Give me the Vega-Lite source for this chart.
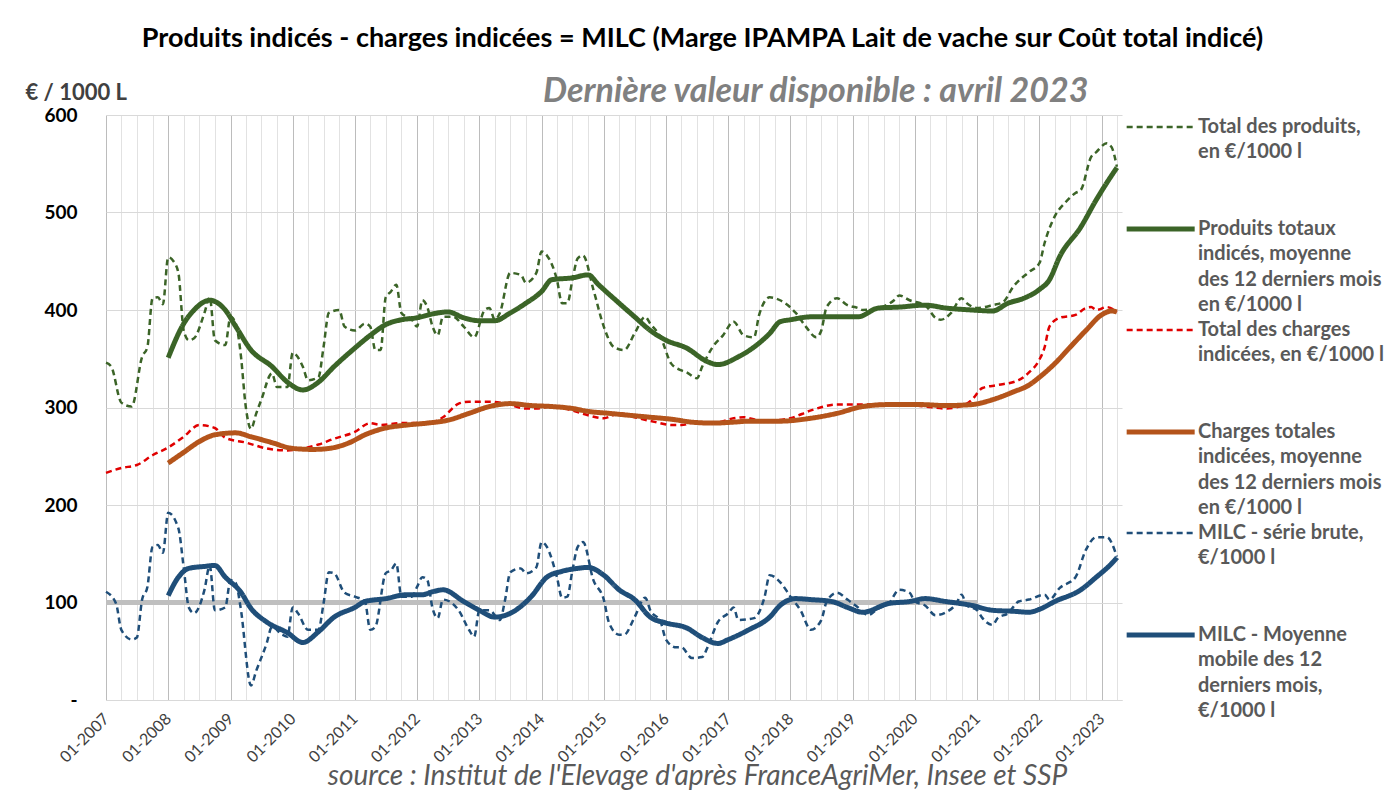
{
  "$schema": "https://vega.github.io/schema/vega-lite/v6.json",
  "width": 1016,
  "height": 585,
  "autosize": {"type": "none"},
  "padding": {"left": 106, "top": 115, "right": 272, "bottom": 93},
  "background": "white",
  "config": {
    "font": "Lato",
    "view": {"stroke": null},
    "style": {"guide-label": {"lineHeight": 25.3}}
  },
  "data": {
    "format": {"parse": {"d": "date:'%Y-%m'"}},
    "values": [
      {"s":"a","d":"2007-01","v":346},{"s":"a","d":"2007-02","v":342},{"s":"a","d":"2007-04","v":305},{"s":"a","d":"2007-06","v":301},{"s":"a","d":"2007-08","v":352},{"s":"a","d":"2007-09","v":362},{"s":"a","d":"2007-10","v":412},{"s":"a","d":"2007-11","v":413},{"s":"a","d":"2007-12","v":406},
      {"s":"a","d":"2008-01","v":454},{"s":"a","d":"2008-02","v":450},{"s":"a","d":"2008-03","v":438},{"s":"a","d":"2008-04","v":379},{"s":"a","d":"2008-05","v":369},{"s":"a","d":"2008-06","v":371},{"s":"a","d":"2008-08","v":397},{"s":"a","d":"2008-09","v":413},{"s":"a","d":"2008-10","v":369},{"s":"a","d":"2008-12","v":364},
      {"s":"a","d":"2009-01","v":393},{"s":"a","d":"2009-02","v":386},{"s":"a","d":"2009-03","v":356},{"s":"a","d":"2009-04","v":300},{"s":"a","d":"2009-05","v":278},{"s":"a","d":"2009-06","v":294},{"s":"a","d":"2009-07","v":308},{"s":"a","d":"2009-09","v":335},{"s":"a","d":"2009-10","v":321},{"s":"a","d":"2009-12","v":321},
      {"s":"a","d":"2010-01","v":356},{"s":"a","d":"2010-03","v":342},{"s":"a","d":"2010-04","v":328},{"s":"a","d":"2010-06","v":331},{"s":"a","d":"2010-07","v":362},{"s":"a","d":"2010-08","v":397},{"s":"a","d":"2010-10","v":400},{"s":"a","d":"2010-11","v":383},
      {"s":"a","d":"2011-01","v":379},{"s":"a","d":"2011-03","v":386},{"s":"a","d":"2011-04","v":383},{"s":"a","d":"2011-05","v":359},{"s":"a","d":"2011-06","v":359},{"s":"a","d":"2011-07","v":413},{"s":"a","d":"2011-08","v":419},{"s":"a","d":"2011-09","v":426},{"s":"a","d":"2011-10","v":397},{"s":"a","d":"2011-12","v":390},
      {"s":"a","d":"2012-01","v":383},{"s":"a","d":"2012-02","v":410},{"s":"a","d":"2012-03","v":403},{"s":"a","d":"2012-04","v":383},{"s":"a","d":"2012-05","v":374},{"s":"a","d":"2012-06","v":393},{"s":"a","d":"2012-08","v":393},{"s":"a","d":"2012-10","v":383},{"s":"a","d":"2012-12","v":372},
      {"s":"a","d":"2013-02","v":400},{"s":"a","d":"2013-03","v":402},{"s":"a","d":"2013-04","v":390},{"s":"a","d":"2013-05","v":397},{"s":"a","d":"2013-07","v":438},{"s":"a","d":"2013-09","v":436},{"s":"a","d":"2013-10","v":428},{"s":"a","d":"2013-12","v":438},
      {"s":"a","d":"2014-01","v":460},{"s":"a","d":"2014-02","v":456},{"s":"a","d":"2014-04","v":431},{"s":"a","d":"2014-05","v":407},{"s":"a","d":"2014-06","v":407},{"s":"a","d":"2014-07","v":431},{"s":"a","d":"2014-08","v":453},{"s":"a","d":"2014-09","v":456},{"s":"a","d":"2014-11","v":421},
      {"s":"a","d":"2015-01","v":383},{"s":"a","d":"2015-03","v":362},{"s":"a","d":"2015-05","v":359},{"s":"a","d":"2015-07","v":376},{"s":"a","d":"2015-09","v":393},{"s":"a","d":"2015-10","v":386},{"s":"a","d":"2015-12","v":372},
      {"s":"a","d":"2016-02","v":345},{"s":"a","d":"2016-04","v":338},{"s":"a","d":"2016-05","v":336},{"s":"a","d":"2016-07","v":330},{"s":"a","d":"2016-08","v":342},{"s":"a","d":"2016-10","v":362},{"s":"a","d":"2016-12","v":374},
      {"s":"a","d":"2017-02","v":388},{"s":"a","d":"2017-04","v":374},{"s":"a","d":"2017-06","v":372},{"s":"a","d":"2017-07","v":395},{"s":"a","d":"2017-09","v":413},{"s":"a","d":"2017-11","v":410},
      {"s":"a","d":"2018-02","v":397},{"s":"a","d":"2018-04","v":383},{"s":"a","d":"2018-06","v":372},{"s":"a","d":"2018-07","v":379},{"s":"a","d":"2018-08","v":403},{"s":"a","d":"2018-10","v":412},{"s":"a","d":"2018-12","v":405},
      {"s":"a","d":"2019-02","v":402},{"s":"a","d":"2019-03","v":400},{"s":"a","d":"2019-06","v":402},{"s":"a","d":"2019-09","v":410},{"s":"a","d":"2019-10","v":415},{"s":"a","d":"2019-12","v":410},
      {"s":"a","d":"2020-03","v":405},{"s":"a","d":"2020-05","v":392},{"s":"a","d":"2020-06","v":390},{"s":"a","d":"2020-08","v":397},{"s":"a","d":"2020-10","v":412},{"s":"a","d":"2020-11","v":407},
      {"s":"a","d":"2021-01","v":402},{"s":"a","d":"2021-04","v":405},{"s":"a","d":"2021-06","v":408},{"s":"a","d":"2021-08","v":424},{"s":"a","d":"2021-11","v":439},
      {"s":"a","d":"2022-01","v":448},{"s":"a","d":"2022-02","v":469},{"s":"a","d":"2022-04","v":496},{"s":"a","d":"2022-06","v":510},{"s":"a","d":"2022-08","v":520},{"s":"a","d":"2022-09","v":523},{"s":"a","d":"2022-11","v":557},{"s":"a","d":"2022-12","v":562},
      {"s":"a","d":"2023-02","v":571},{"s":"a","d":"2023-03","v":567},{"s":"a","d":"2023-04","v":547},

      {"s":"b","d":"2008-01","v":351},{"s":"b","d":"2008-04","v":386},{"s":"b","d":"2008-06","v":400},{"s":"b","d":"2008-09","v":410},{"s":"b","d":"2008-12","v":400},{"s":"b","d":"2009-02","v":383},{"s":"b","d":"2009-05","v":359},{"s":"b","d":"2009-09","v":342},{"s":"b","d":"2009-12","v":326},
      {"s":"b","d":"2010-03","v":318},{"s":"b","d":"2010-06","v":326},{"s":"b","d":"2010-09","v":342},{"s":"b","d":"2011-01","v":361},{"s":"b","d":"2011-04","v":374},{"s":"b","d":"2011-07","v":385},{"s":"b","d":"2011-10","v":390},
      {"s":"b","d":"2012-01","v":392},{"s":"b","d":"2012-04","v":396},{"s":"b","d":"2012-07","v":398},{"s":"b","d":"2012-10","v":392},{"s":"b","d":"2013-01","v":389},{"s":"b","d":"2013-04","v":389},{"s":"b","d":"2013-07","v":397},{"s":"b","d":"2013-10","v":407},
      {"s":"b","d":"2014-01","v":419},{"s":"b","d":"2014-03","v":431},{"s":"b","d":"2014-07","v":433},{"s":"b","d":"2014-10","v":436},{"s":"b","d":"2014-12","v":426},{"s":"b","d":"2015-04","v":407},{"s":"b","d":"2015-07","v":393},{"s":"b","d":"2015-10","v":379},
      {"s":"b","d":"2016-01","v":369},{"s":"b","d":"2016-05","v":361},{"s":"b","d":"2016-09","v":347},{"s":"b","d":"2016-11","v":344},{"s":"b","d":"2017-03","v":352},{"s":"b","d":"2017-06","v":362},{"s":"b","d":"2017-09","v":376},{"s":"b","d":"2017-11","v":388},
      {"s":"b","d":"2018-01","v":390},{"s":"b","d":"2018-05","v":393},{"s":"b","d":"2019-02","v":393},{"s":"b","d":"2019-06","v":402},{"s":"b","d":"2019-10","v":403},{"s":"b","d":"2020-03","v":405},{"s":"b","d":"2020-07","v":402},{"s":"b","d":"2020-12","v":400},
      {"s":"b","d":"2021-04","v":399},{"s":"b","d":"2021-07","v":407},{"s":"b","d":"2021-10","v":412},{"s":"b","d":"2022-01","v":421},{"s":"b","d":"2022-03","v":431},{"s":"b","d":"2022-05","v":455},{"s":"b","d":"2022-09","v":485},{"s":"b","d":"2022-12","v":513},{"s":"b","d":"2023-03","v":538},{"s":"b","d":"2023-04","v":546},

      {"s":"c","d":"2007-01","v":233},{"s":"c","d":"2007-04","v":238},{"s":"c","d":"2007-07","v":241},{"s":"c","d":"2007-10","v":251},{"s":"c","d":"2008-01","v":259},{"s":"c","d":"2008-04","v":270},{"s":"c","d":"2008-07","v":282},{"s":"c","d":"2008-10","v":279},{"s":"c","d":"2008-12","v":269},
      {"s":"c","d":"2009-04","v":264},{"s":"c","d":"2009-08","v":258},{"s":"c","d":"2009-12","v":256},{"s":"c","d":"2010-02","v":257},{"s":"c","d":"2010-06","v":262},{"s":"c","d":"2010-09","v":268},{"s":"c","d":"2011-01","v":275},{"s":"c","d":"2011-04","v":284},{"s":"c","d":"2011-06","v":282},{"s":"c","d":"2011-10","v":284},
      {"s":"c","d":"2012-01","v":284},{"s":"c","d":"2012-04","v":285},{"s":"c","d":"2012-06","v":290},{"s":"c","d":"2012-09","v":304},{"s":"c","d":"2012-11","v":306},{"s":"c","d":"2013-03","v":306},{"s":"c","d":"2013-06","v":304},{"s":"c","d":"2013-10","v":299},{"s":"c","d":"2013-12","v":299},
      {"s":"c","d":"2014-03","v":301},{"s":"c","d":"2014-07","v":297},{"s":"c","d":"2014-10","v":292},{"s":"c","d":"2015-01","v":289},{"s":"c","d":"2015-04","v":294},{"s":"c","d":"2015-07","v":290},{"s":"c","d":"2015-11","v":285},{"s":"c","d":"2016-02","v":282},{"s":"c","d":"2016-04","v":282},{"s":"c","d":"2016-07","v":285},{"s":"c","d":"2016-11","v":285},
      {"s":"c","d":"2017-02","v":289},{"s":"c","d":"2017-04","v":290},{"s":"c","d":"2017-07","v":287},{"s":"c","d":"2017-10","v":287},{"s":"c","d":"2018-01","v":289},{"s":"c","d":"2018-05","v":297},{"s":"c","d":"2018-10","v":303},{"s":"c","d":"2019-03","v":303},{"s":"c","d":"2019-09","v":304},
      {"s":"c","d":"2020-03","v":301},{"s":"c","d":"2020-07","v":299},{"s":"c","d":"2020-11","v":304},{"s":"c","d":"2020-12","v":308},{"s":"c","d":"2021-02","v":320},{"s":"c","d":"2021-05","v":323},{"s":"c","d":"2021-09","v":328},{"s":"c","d":"2021-11","v":336},
      {"s":"c","d":"2022-01","v":349},{"s":"c","d":"2022-02","v":362},{"s":"c","d":"2022-03","v":383},{"s":"c","d":"2022-05","v":392},{"s":"c","d":"2022-08","v":395},{"s":"c","d":"2022-10","v":402},{"s":"c","d":"2022-11","v":403},{"s":"c","d":"2022-12","v":400},{"s":"c","d":"2023-02","v":403},{"s":"c","d":"2023-04","v":398},

      {"s":"d","d":"2008-01","v":243},{"s":"d","d":"2008-04","v":254},{"s":"d","d":"2008-07","v":265},{"s":"d","d":"2008-10","v":272},{"s":"d","d":"2009-02","v":274},{"s":"d","d":"2009-05","v":270},{"s":"d","d":"2009-09","v":264},{"s":"d","d":"2010-01","v":258},{"s":"d","d":"2010-05","v":257},{"s":"d","d":"2010-08","v":258},{"s":"d","d":"2010-12","v":264},
      {"s":"d","d":"2011-03","v":272},{"s":"d","d":"2011-07","v":279},{"s":"d","d":"2011-11","v":282},{"s":"d","d":"2012-03","v":284},{"s":"d","d":"2012-07","v":287},{"s":"d","d":"2012-11","v":294},{"s":"d","d":"2013-03","v":301},{"s":"d","d":"2013-07","v":304},{"s":"d","d":"2013-11","v":302},
      {"s":"d","d":"2014-03","v":301},{"s":"d","d":"2014-07","v":299},{"s":"d","d":"2014-10","v":296},{"s":"d","d":"2015-02","v":294},{"s":"d","d":"2015-06","v":292},{"s":"d","d":"2015-10","v":290},{"s":"d","d":"2016-02","v":288},{"s":"d","d":"2016-06","v":285},{"s":"d","d":"2016-10","v":284},
      {"s":"d","d":"2017-02","v":285},{"s":"d","d":"2017-05","v":286},{"s":"d","d":"2017-11","v":286},{"s":"d","d":"2018-05","v":289},{"s":"d","d":"2018-10","v":294},{"s":"d","d":"2019-03","v":301},{"s":"d","d":"2019-08","v":303},{"s":"d","d":"2020-02","v":303},{"s":"d","d":"2020-07","v":302},{"s":"d","d":"2020-12","v":303},
      {"s":"d","d":"2021-04","v":308},{"s":"d","d":"2021-08","v":316},{"s":"d","d":"2021-11","v":323},{"s":"d","d":"2022-01","v":331},{"s":"d","d":"2022-04","v":345},{"s":"d","d":"2022-07","v":362},{"s":"d","d":"2022-10","v":379},{"s":"d","d":"2023-01","v":395},{"s":"d","d":"2023-03","v":399},{"s":"d","d":"2023-04","v":398},

      {"s":"e","d":"2007-01","v":111},{"s":"e","d":"2007-03","v":99},{"s":"e","d":"2007-04","v":72},{"s":"e","d":"2007-06","v":62},{"s":"e","d":"2007-07","v":64},{"s":"e","d":"2007-08","v":103},{"s":"e","d":"2007-09","v":116},{"s":"e","d":"2007-10","v":157},{"s":"e","d":"2007-11","v":159},{"s":"e","d":"2007-12","v":151},
      {"s":"e","d":"2008-01","v":192},{"s":"e","d":"2008-03","v":176},{"s":"e","d":"2008-04","v":136},{"s":"e","d":"2008-05","v":95},{"s":"e","d":"2008-06","v":89},{"s":"e","d":"2008-08","v":113},{"s":"e","d":"2008-09","v":138},{"s":"e","d":"2008-10","v":92},{"s":"e","d":"2008-12","v":95},
      {"s":"e","d":"2009-01","v":123},{"s":"e","d":"2009-02","v":120},{"s":"e","d":"2009-03","v":95},{"s":"e","d":"2009-05","v":15},{"s":"e","d":"2009-06","v":30},{"s":"e","d":"2009-08","v":58},{"s":"e","d":"2009-09","v":75},{"s":"e","d":"2009-11","v":67},{"s":"e","d":"2009-12","v":65},
      {"s":"e","d":"2010-01","v":95},{"s":"e","d":"2010-02","v":89},{"s":"e","d":"2010-04","v":72},{"s":"e","d":"2010-06","v":72},{"s":"e","d":"2010-07","v":99},{"s":"e","d":"2010-08","v":131},{"s":"e","d":"2010-09","v":130},{"s":"e","d":"2010-11","v":110},
      {"s":"e","d":"2011-01","v":106},{"s":"e","d":"2011-03","v":101},{"s":"e","d":"2011-04","v":72},{"s":"e","d":"2011-05","v":75},{"s":"e","d":"2011-07","v":130},{"s":"e","d":"2011-08","v":133},{"s":"e","d":"2011-09","v":140},{"s":"e","d":"2011-10","v":106},{"s":"e","d":"2011-12","v":106},
      {"s":"e","d":"2012-01","v":116},{"s":"e","d":"2012-02","v":126},{"s":"e","d":"2012-03","v":123},{"s":"e","d":"2012-04","v":94},{"s":"e","d":"2012-05","v":84},{"s":"e","d":"2012-06","v":103},{"s":"e","d":"2012-09","v":92},{"s":"e","d":"2012-11","v":72},{"s":"e","d":"2012-12","v":65},
      {"s":"e","d":"2013-01","v":92},{"s":"e","d":"2013-03","v":92},{"s":"e","d":"2013-05","v":82},{"s":"e","d":"2013-06","v":103},{"s":"e","d":"2013-07","v":131},{"s":"e","d":"2013-09","v":135},{"s":"e","d":"2013-10","v":130},{"s":"e","d":"2013-12","v":136},
      {"s":"e","d":"2014-01","v":162},{"s":"e","d":"2014-02","v":157},{"s":"e","d":"2014-04","v":126},{"s":"e","d":"2014-05","v":105},{"s":"e","d":"2014-06","v":106},{"s":"e","d":"2014-07","v":133},{"s":"e","d":"2014-08","v":157},{"s":"e","d":"2014-09","v":162},{"s":"e","d":"2014-11","v":123},
      {"s":"e","d":"2015-01","v":103},{"s":"e","d":"2015-02","v":79},{"s":"e","d":"2015-04","v":67},{"s":"e","d":"2015-05","v":67},{"s":"e","d":"2015-07","v":85},{"s":"e","d":"2015-09","v":105},{"s":"e","d":"2015-10","v":92},{"s":"e","d":"2015-12","v":80},
      {"s":"e","d":"2016-01","v":62},{"s":"e","d":"2016-03","v":54},{"s":"e","d":"2016-04","v":54},{"s":"e","d":"2016-06","v":43},{"s":"e","d":"2016-08","v":44},{"s":"e","d":"2016-09","v":54},{"s":"e","d":"2016-11","v":80},
      {"s":"e","d":"2017-01","v":89},{"s":"e","d":"2017-02","v":95},{"s":"e","d":"2017-03","v":82},{"s":"e","d":"2017-06","v":84},{"s":"e","d":"2017-08","v":105},{"s":"e","d":"2017-09","v":128},{"s":"e","d":"2017-11","v":121},
      {"s":"e","d":"2018-01","v":106},{"s":"e","d":"2018-03","v":92},{"s":"e","d":"2018-05","v":72},{"s":"e","d":"2018-07","v":82},{"s":"e","d":"2018-08","v":101},{"s":"e","d":"2018-10","v":110},{"s":"e","d":"2018-12","v":103},
      {"s":"e","d":"2019-02","v":95},{"s":"e","d":"2019-04","v":87},{"s":"e","d":"2019-06","v":94},{"s":"e","d":"2019-08","v":99},{"s":"e","d":"2019-10","v":113},{"s":"e","d":"2019-12","v":110},
      {"s":"e","d":"2020-01","v":101},{"s":"e","d":"2020-03","v":97},{"s":"e","d":"2020-05","v":87},{"s":"e","d":"2020-07","v":90},{"s":"e","d":"2020-09","v":99},{"s":"e","d":"2020-10","v":108},{"s":"e","d":"2020-11","v":97},
      {"s":"e","d":"2021-01","v":92},{"s":"e","d":"2021-02","v":84},{"s":"e","d":"2021-04","v":77},{"s":"e","d":"2021-05","v":84},{"s":"e","d":"2021-07","v":89},{"s":"e","d":"2021-09","v":101},{"s":"e","d":"2021-11","v":103},
      {"s":"e","d":"2022-02","v":108},{"s":"e","d":"2022-03","v":103},{"s":"e","d":"2022-05","v":115},{"s":"e","d":"2022-08","v":126},{"s":"e","d":"2022-10","v":154},{"s":"e","d":"2022-12","v":167},{"s":"e","d":"2023-02","v":167},{"s":"e","d":"2023-04","v":147},

      {"s":"f","d":"2008-01","v":107},{"s":"f","d":"2008-03","v":126},{"s":"f","d":"2008-05","v":135},{"s":"f","d":"2008-08","v":137},{"s":"f","d":"2008-10","v":138},{"s":"f","d":"2008-12","v":126},{"s":"f","d":"2009-03","v":111},{"s":"f","d":"2009-05","v":94},{"s":"f","d":"2009-08","v":80},{"s":"f","d":"2009-12","v":69},
      {"s":"f","d":"2010-03","v":59},{"s":"f","d":"2010-06","v":70},{"s":"f","d":"2010-09","v":85},{"s":"f","d":"2011-01","v":95},{"s":"f","d":"2011-03","v":101},{"s":"f","d":"2011-07","v":104},{"s":"f","d":"2011-11","v":108},
      {"s":"f","d":"2012-02","v":108},{"s":"f","d":"2012-04","v":111},{"s":"f","d":"2012-06","v":113},{"s":"f","d":"2012-10","v":101},{"s":"f","d":"2013-01","v":92},{"s":"f","d":"2013-04","v":85},{"s":"f","d":"2013-08","v":92},{"s":"f","d":"2013-11","v":106},
      {"s":"f","d":"2014-02","v":126},{"s":"f","d":"2014-05","v":132},{"s":"f","d":"2014-08","v":135},{"s":"f","d":"2014-10","v":136},{"s":"f","d":"2015-01","v":128},{"s":"f","d":"2015-04","v":113},{"s":"f","d":"2015-07","v":103},{"s":"f","d":"2015-10","v":85},
      {"s":"f","d":"2016-01","v":79},{"s":"f","d":"2016-05","v":74},{"s":"f","d":"2016-08","v":64},{"s":"f","d":"2016-11","v":58},{"s":"f","d":"2017-01","v":62},{"s":"f","d":"2017-05","v":72},{"s":"f","d":"2017-09","v":85},{"s":"f","d":"2017-11","v":97},
      {"s":"f","d":"2018-02","v":104},{"s":"f","d":"2018-05","v":103},{"s":"f","d":"2018-09","v":101},{"s":"f","d":"2018-12","v":95},{"s":"f","d":"2019-03","v":90},{"s":"f","d":"2019-08","v":99},{"s":"f","d":"2019-12","v":101},
      {"s":"f","d":"2020-03","v":104},{"s":"f","d":"2020-07","v":101},{"s":"f","d":"2020-12","v":97},{"s":"f","d":"2021-04","v":92},{"s":"f","d":"2021-08","v":91},{"s":"f","d":"2021-11","v":90},
      {"s":"f","d":"2022-01","v":93},{"s":"f","d":"2022-04","v":101},{"s":"f","d":"2022-09","v":113},{"s":"f","d":"2022-12","v":126},{"s":"f","d":"2023-03","v":140},{"s":"f","d":"2023-04","v":146}
    ]
  },
  "layer": [
    {
      "data": {"format": {"parse": {"d": "date:'%Y-%m'"}}, "values": [{"d": "2007-01", "v": 100}, {"d": "2021-01", "v": 100}]},
      "mark": {"type": "line", "color": "#bfbfbf", "strokeWidth": 5},
      "encoding": {
        "x": {
          "field": "d", "type": "temporal",
          "scale": {"domain": [{"year": 2007, "month": 1, "date": 1}, {"year": 2023, "month": 5, "date": 1}]},
          "axis": {
            "orient": "bottom",
            "tickCount": {"interval": "month", "step": 3},
            "labelExpr": "month(datum.value) == 0 ? timeFormat(datum.value, '%m-%Y') : ''",
            "labelAngle": -45, "labelAlign": "right", "labelBaseline": "middle",
            "labelFont": "Lato", "labelFontSize": 16, "labelColor": "#404040", "labelPadding": 16,
            "labelOverlap": false, "labelBound": false, "labelFlush": false,
            "ticks": false, "domain": true, "domainColor": "#d9d9d9",
            "grid": true, "gridWidth": 1,
            "gridColor": {"condition": {"test": "month(datum.value) == 0", "value": "#bcbcbc"}, "value": "#e2e2e2"},
            "title": "source : Institut de l'Elevage d'après FranceAgriMer, Insee et SSP",
            "titleFont": "Lato", "titleFontSize": 28, "titleFontStyle": "italic", "titleFontWeight": "normal",
            "titleColor": "#595959", "titleX": 591, "titleY": 84, "titleAlign": "center", "titleBaseline": "alphabetic", "titleAnchor": null
          }
        },
        "y": {
          "field": "v", "type": "quantitative",
          "scale": {"domain": [0, 600], "nice": false},
          "axis": {
            "values": [0, 100, 200, 300, 400, 500, 600],
            "labelExpr": "datum.value == 0 ? '-' : datum.label",
            "labelFont": "Lato", "labelFontSize": 19, "labelFontWeight": "bold", "labelColor": "#000000", "labelPadding": 29,
            "domain": false, "ticks": false, "grid": true, "gridColor": "#d9d9d9",
            "title": "€ / 1000 L", "titleAngle": 0, "titleX": -81, "titleY": -16, "titleAlign": "left", "titleBaseline": "alphabetic",
            "titleFont": "Lato", "titleFontSize": 22, "titleFontWeight": "bold", "titleColor": "#404040"
          }
        }
      }
    },
    {
      "mark": {"type": "line", "interpolate": "monotone"},
      "encoding": {
        "x": {
          "field": "d", "type": "temporal",
          "axis": {
            "orient": "top", "labels": false, "ticks": false, "domain": false, "grid": false,
            "title": "Dernière valeur disponible : avril 2023",
            "titleFont": "Lato", "titleFontSize": 34, "titleFontStyle": "italic", "titleFontWeight": "bold", "titleColor": "#808080",
            "titleX": 982, "titleY": -14, "titleAlign": "right", "titleBaseline": "alphabetic", "titleAnchor": null
          }
        },
        "y": {
          "field": "v", "type": "quantitative",
          "axis": {
            "orient": "right", "labels": false, "ticks": false, "domain": false, "grid": false,
            "title": "Produits indicés - charges indicées = MILC (Marge IPAMPA Lait de vache sur Coût total indicé)",
            "titleFont": "Lato", "titleFontSize": 27, "titleFontWeight": "bold", "titleColor": "#000000",
            "titleAngle": 0, "titleX": -420, "titleY": -69, "titleAlign": "center", "titleBaseline": "alphabetic", "titleAnchor": null, "titleLimit": 1400
          }
        },
        "color": {
          "field": "s", "type": "nominal",
          "scale": {"domain": ["a", "b", "c", "d", "e", "f"], "range": ["#3b6427", "#3b6427", "#e00000", "#b4541b", "#1f4e79", "#1f4e79"]},
          "legend": {
            "orient": "none", "legendX": 1018, "legendY": -1,
            "title": null, "padding": 0,
            "symbolType": "M-1,0H5", "symbolSize": 514,
            "labelFont": "Lato", "labelFontSize": 20, "labelFontWeight": "bold", "labelColor": "#595959",
            "labelOffset": 46, "labelLimit": 400, "labelBaseline": "middle",
            "rowPadding": 2,
            "labelExpr": "datum.value == 'a' ? ['Total des produits,', 'en €/1000 l', '', ''] : datum.value == 'b' ? ['Produits totaux', 'indicés, moyenne', 'des 12 derniers mois', 'en €/1000 l'] : datum.value == 'c' ? ['Total des charges', 'indicées, en €/1000 l', '', ''] : datum.value == 'd' ? ['Charges totales', 'indicées, moyenne', 'des 12 derniers mois', 'en €/1000 l'] : datum.value == 'e' ? ['MILC - série brute,', '€/1000 l', '', ''] : ['MILC - Moyenne', 'mobile des 12', 'derniers mois,', '€/1000 l']"
          }
        },
        "strokeDash": {
          "field": "s", "type": "nominal",
          "scale": {"domain": ["a", "b", "c", "d", "e", "f"], "range": [[6, 4], [1, 0], [6, 4], [1, 0], [6, 4], [1, 0]]}
        },
        "strokeWidth": {
          "field": "s", "type": "nominal",
          "scale": {"type": "ordinal", "domain": ["a", "b", "c", "d", "e", "f"], "range": [2.5, 5, 2.5, 5, 2.5, 5]}
        }
      }
    }
  ],
  "resolve": {"axis": {"x": "independent", "y": "independent"}}
}
